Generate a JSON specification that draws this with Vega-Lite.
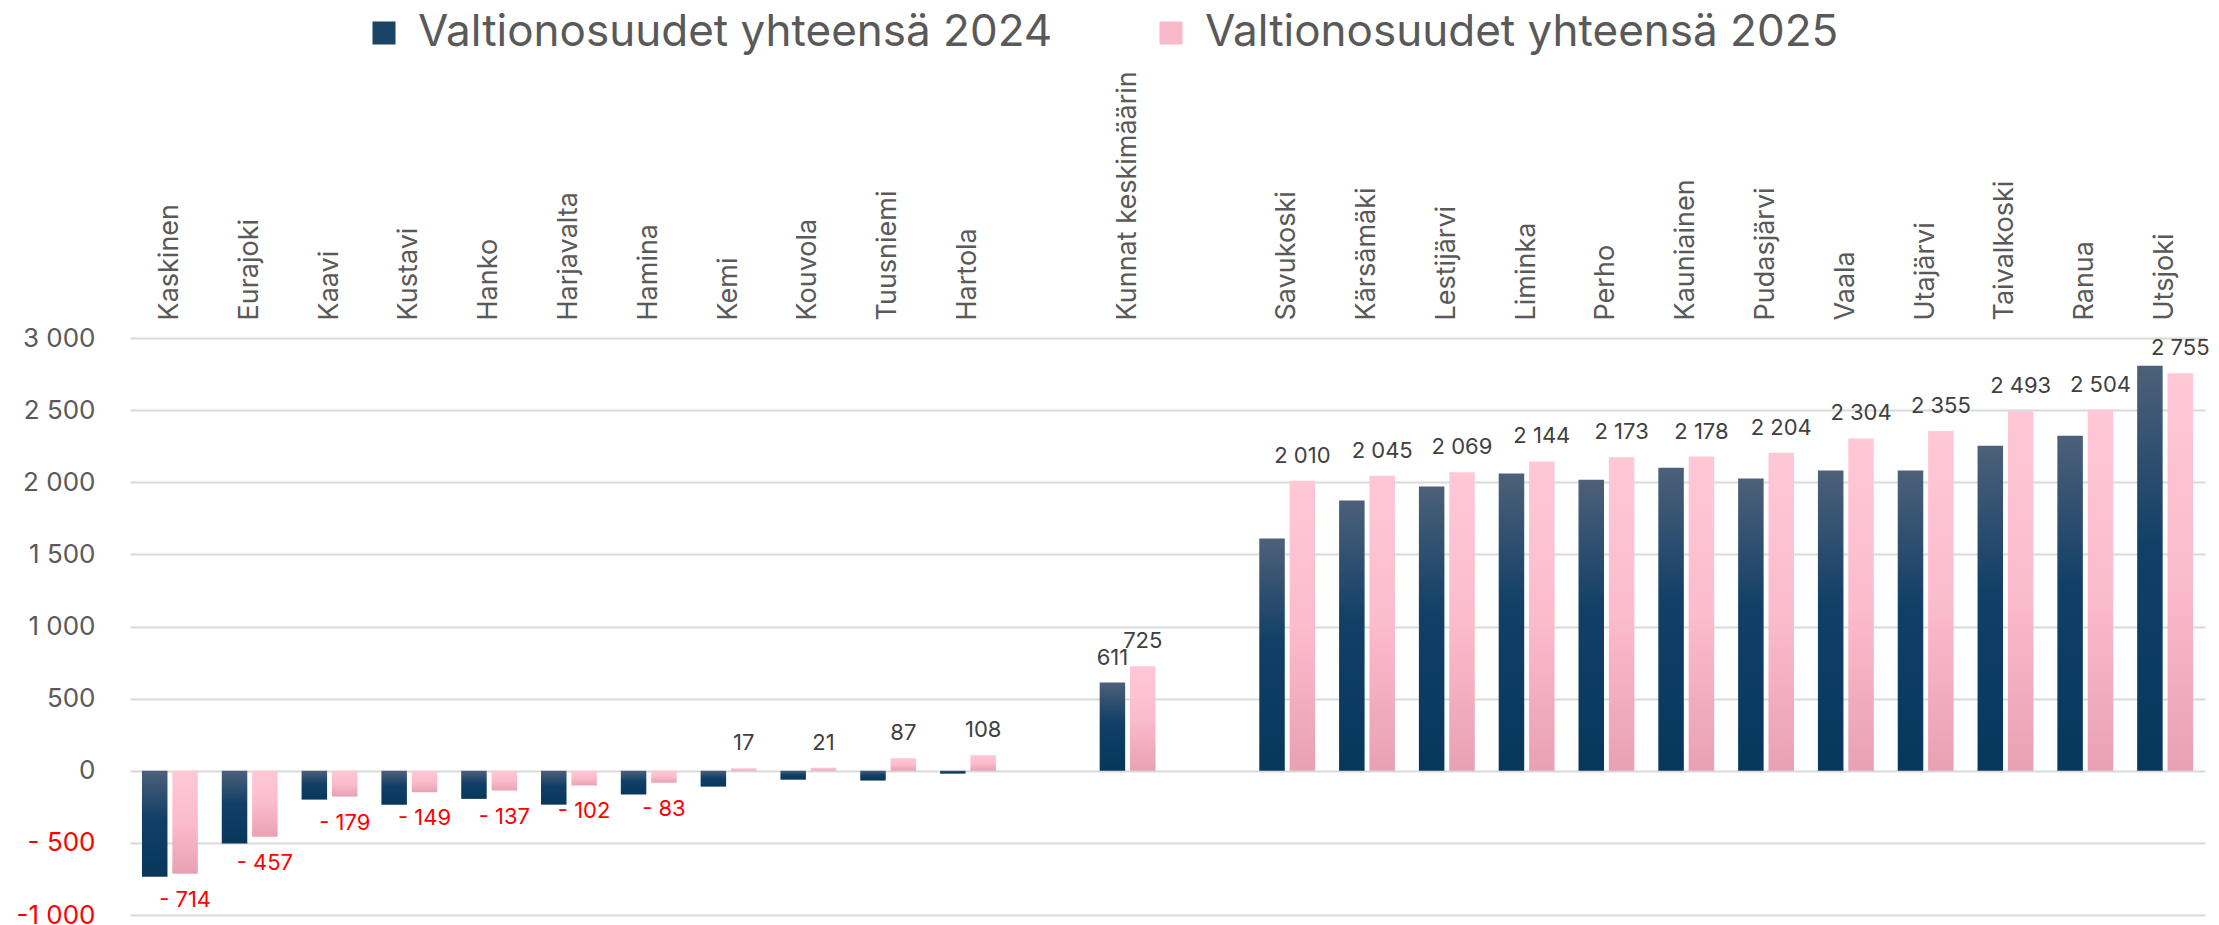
{
  "$schema": "https://vega.github.io/schema/vega-lite/v6.json",
  "width": 2075,
  "height": 577,
  "autosize": {"type": "none"},
  "padding": {"left": 130, "top": 338, "right": 14, "bottom": 10},
  "background": "white",
  "config": {"view": {"stroke": null}, "font": "Inter"},
  "data": {
    "values": [
      {"kunta": "Kaskinen", "vuosi": "2024", "arvo": -735},
      {"kunta": "Kaskinen", "vuosi": "2025", "arvo": -714},
      {"kunta": "Eurajoki", "vuosi": "2024", "arvo": -505},
      {"kunta": "Eurajoki", "vuosi": "2025", "arvo": -457},
      {"kunta": "Kaavi", "vuosi": "2024", "arvo": -200},
      {"kunta": "Kaavi", "vuosi": "2025", "arvo": -179},
      {"kunta": "Kustavi", "vuosi": "2024", "arvo": -235},
      {"kunta": "Kustavi", "vuosi": "2025", "arvo": -149},
      {"kunta": "Hanko", "vuosi": "2024", "arvo": -195},
      {"kunta": "Hanko", "vuosi": "2025", "arvo": -137},
      {"kunta": "Harjavalta", "vuosi": "2024", "arvo": -235},
      {"kunta": "Harjavalta", "vuosi": "2025", "arvo": -102},
      {"kunta": "Hamina", "vuosi": "2024", "arvo": -165},
      {"kunta": "Hamina", "vuosi": "2025", "arvo": -83},
      {"kunta": "Kemi", "vuosi": "2024", "arvo": -110},
      {"kunta": "Kemi", "vuosi": "2025", "arvo": 17},
      {"kunta": "Kouvola", "vuosi": "2024", "arvo": -62},
      {"kunta": "Kouvola", "vuosi": "2025", "arvo": 21},
      {"kunta": "Tuusniemi", "vuosi": "2024", "arvo": -68},
      {"kunta": "Tuusniemi", "vuosi": "2025", "arvo": 87},
      {"kunta": "Hartola", "vuosi": "2024", "arvo": -20},
      {"kunta": "Hartola", "vuosi": "2025", "arvo": 108},
      {"kunta": "Kunnat keskimäärin", "vuosi": "2024", "arvo": 611},
      {"kunta": "Kunnat keskimäärin", "vuosi": "2025", "arvo": 725},
      {"kunta": "Savukoski", "vuosi": "2024", "arvo": 1610},
      {"kunta": "Savukoski", "vuosi": "2025", "arvo": 2010},
      {"kunta": "Kärsämäki", "vuosi": "2024", "arvo": 1873},
      {"kunta": "Kärsämäki", "vuosi": "2025", "arvo": 2045},
      {"kunta": "Lestijärvi", "vuosi": "2024", "arvo": 1970},
      {"kunta": "Lestijärvi", "vuosi": "2025", "arvo": 2069},
      {"kunta": "Liminka", "vuosi": "2024", "arvo": 2060},
      {"kunta": "Liminka", "vuosi": "2025", "arvo": 2144},
      {"kunta": "Perho", "vuosi": "2024", "arvo": 2018},
      {"kunta": "Perho", "vuosi": "2025", "arvo": 2173},
      {"kunta": "Kauniainen", "vuosi": "2024", "arvo": 2101},
      {"kunta": "Kauniainen", "vuosi": "2025", "arvo": 2178},
      {"kunta": "Pudasjärvi", "vuosi": "2024", "arvo": 2026},
      {"kunta": "Pudasjärvi", "vuosi": "2025", "arvo": 2204},
      {"kunta": "Vaala", "vuosi": "2024", "arvo": 2082},
      {"kunta": "Vaala", "vuosi": "2025", "arvo": 2304},
      {"kunta": "Utajärvi", "vuosi": "2024", "arvo": 2082},
      {"kunta": "Utajärvi", "vuosi": "2025", "arvo": 2355},
      {"kunta": "Taivalkoski", "vuosi": "2024", "arvo": 2253},
      {"kunta": "Taivalkoski", "vuosi": "2025", "arvo": 2493},
      {"kunta": "Ranua", "vuosi": "2024", "arvo": 2323},
      {"kunta": "Ranua", "vuosi": "2025", "arvo": 2504},
      {"kunta": "Utsjoki", "vuosi": "2024", "arvo": 2808},
      {"kunta": "Utsjoki", "vuosi": "2025", "arvo": 2755}
    ]
  },
  "transform": [
    {"calculate": "datum.arvo < 0 ? '- ' + replace(format(-datum.arvo, ','), ',', ' ') : replace(format(datum.arvo, ','), ',', ' ')", "as": "lbl"}
  ],
  "encoding": {
    "x": {
      "field": "kunta",
      "type": "nominal",
      "sort": null,
      "scale": {
        "domain": ["Kaskinen", "Eurajoki", "Kaavi", "Kustavi", "Hanko", "Harjavalta", "Hamina", "Kemi", "Kouvola", "Tuusniemi", "Hartola", "tyhjä1", "Kunnat keskimäärin", "tyhjä2", "Savukoski", "Kärsämäki", "Lestijärvi", "Liminka", "Perho", "Kauniainen", "Pudasjärvi", "Vaala", "Utajärvi", "Taivalkoski", "Ranua", "Utsjoki"],
        "paddingInner": 0.3,
        "paddingOuter": 0.15
      },
      "axis": {
        "orient": "top",
        "labelAngle": -90,
        "labelFont": "Inter",
        "labelFontSize": 27,
        "labelColor": "#595959",
        "labelPadding": 18,
        "labelLimit": 1000,
        "ticks": false,
        "domain": false,
        "grid": false,
        "title": null,
        "labelExpr": "indexof(datum.label, 'tyhjä') == 0 ? '' : datum.label"
      }
    },
    "xOffset": {
      "field": "vuosi",
      "type": "nominal",
      "scale": {"domain": ["2024", "2025"], "paddingInner": 0.16}
    },
    "y": {
      "field": "arvo",
      "type": "quantitative",
      "stack": null,
      "scale": {"domain": [-1000, 3000], "nice": false},
      "axis": {
        "values": [-1000, -500, 0, 500, 1000, 1500, 2000, 2500, 3000],
        "labelExpr": "datum.value == -1000 ? '-1 000' : datum.value < 0 ? '- ' + replace(format(-datum.value, ','), ',', ' ') : replace(format(datum.value, ','), ',', ' ')",
        "labelColor": {"condition": {"test": "datum.value < 0", "value": "#ff0000"}, "value": "#595959"},
        "labelFont": "Inter",
        "labelFontSize": 26,
        "labelPadding": 35,
        "labelFlush": false,
        "labelOverlap": false,
        "ticks": false,
        "domain": false,
        "title": null,
        "gridColor": "#d9d9d9",
        "gridWidth": 2
      }
    }
  },
  "layer": [
    {
      "mark": {"type": "bar", "opacity": 0},
      "encoding": {
        "color": {
          "field": "vuosi",
          "type": "nominal",
          "scale": {"domain": ["2024", "2025"], "range": ["#1a4466", "#f9b9ca"]},
          "legend": {
            "orient": "none",
            "legendX": 232,
            "legendY": -327,
            "direction": "horizontal",
            "title": null,
            "symbolType": "square",
            "symbolSize": 530,
            "symbolOpacity": 1,
            "symbolStrokeWidth": 0,
            "labelFont": "Inter",
            "labelFontSize": 44,
            "labelColor": "#595959",
            "labelOffset": 12,
            "labelLimit": 2000,
            "columnPadding": 96,
            "padding": 0,
            "labelExpr": "'Valtionosuudet yhteensä ' + datum.label"
          }
        }
      }
    },
    {
      "transform": [{"filter": "datum.vuosi == '2024'"}],
      "mark": {
        "type": "bar",
        "fill": {
          "gradient": "linear", "x1": 0, "y1": 0, "x2": 0, "y2": 1,
          "stops": [
            {"offset": 0, "color": "#4d6079"},
            {"offset": 0.45, "color": "#113f66"},
            {"offset": 1, "color": "#08375c"}
          ]
        }
      }
    },
    {
      "transform": [{"filter": "datum.vuosi == '2025'"}],
      "mark": {
        "type": "bar",
        "fill": {
          "gradient": "linear", "x1": 0, "y1": 0, "x2": 0, "y2": 1,
          "stops": [
            {"offset": 0, "color": "#ffc8d6"},
            {"offset": 0.5, "color": "#fbbccc"},
            {"offset": 1, "color": "#e8a1b3"}
          ]
        }
      }
    },
    {
      "transform": [{"filter": "(datum.vuosi == '2025' || datum.kunta == 'Kunnat keskimäärin') && datum.arvo >= 0"}],
      "mark": {"type": "text", "baseline": "alphabetic", "dy": -18, "fontSize": 22, "font": "Inter", "color": "#404040"},
      "encoding": {"text": {"field": "lbl"}}
    },
    {
      "transform": [{"filter": "datum.vuosi == '2025' && datum.arvo < 0"}],
      "mark": {"type": "text", "baseline": "alphabetic", "dy": 33, "fontSize": 22, "font": "Inter", "color": "#ff0000"},
      "encoding": {"text": {"field": "lbl"}}
    }
  ]
}
